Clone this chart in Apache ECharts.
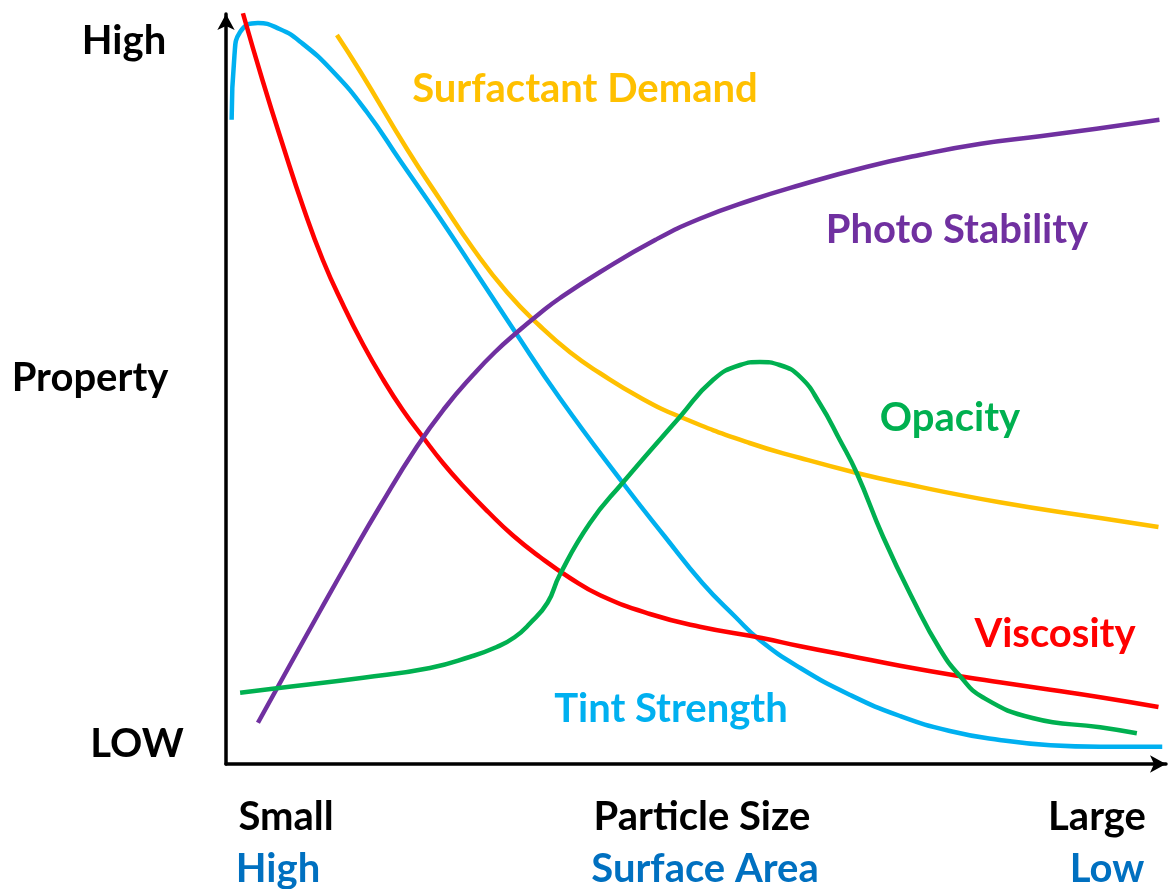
<!DOCTYPE html>
<html>
<head>
<meta charset="utf-8">
<script src="https://cdn.jsdelivr.net/npm/echarts@6/dist/echarts.min.js"></script>
<style>
html,body{margin:0;padding:0;background:#fff;}
#chart{width:1176px;height:889px;}
</style>
</head>
<body>
<div id="chart"></div>
<script>
// Particle size (0 = small, 100 = large) vs relative property level (0 = low, 100 = high)
const tintStrength = [[0.6,85.9],[0.9,94.5],[1.5,97.6],[3.4,98.8],[5.7,98.0],[7.9,96.3],[11.4,92.3],[15.0,86.9],[18.5,80.5],[22.8,72.7],[26.5,65.7],[30.5,58.1],[35.5,48.8],[42.2,37.5],[46.7,30.3],[50.7,24.1],[54.2,19.6],[56.8,16.5],[61.1,12.8],[66.4,9.2],[71.7,6.4],[77.0,4.4],[82.3,3.2],[87.7,2.5],[93.0,2.3],[99.6,2.3]];
const viscosity = [[1.8,100.1],[3.9,91.1],[6.1,82.3],[8.2,74.3],[10.3,67.2],[12.5,61.1],[14.6,55.9],[16.7,51.3],[18.8,47.2],[21.0,43.5],[23.1,40.1],[25.2,37.1],[27.9,33.6],[30.5,30.5],[33.4,27.6],[36.6,24.8],[39.8,22.5],[45.1,20.0],[50.4,18.3],[57.0,16.8],[61.1,15.7],[66.4,14.4],[71.7,13.1],[78.1,11.7],[82.3,10.9],[87.7,9.9],[93.0,8.9],[99.2,7.6]];
const surfactantDemand = [[11.8,97.2],[14.3,92.3],[19.3,81.9],[22.8,75.2],[26.3,68.7],[29.9,62.9],[33.4,58.4],[36.6,54.9],[39.8,52.1],[44.0,48.9],[48.3,46.3],[55.7,42.8],[61.1,40.8],[67.1,38.8],[71.7,37.5],[82.3,34.9],[93.0,32.8],[99.2,31.6]];
const photoStability = [[3.4,5.5],[6.8,13.2],[10.0,20.4],[13.2,27.5],[16.4,34.4],[20.3,42.3],[23.3,47.5],[26.3,51.9],[28.6,54.9],[31.0,57.6],[33.4,60.1],[35.5,62.1],[39.8,65.6],[45.7,69.9],[50.4,72.7],[55.9,75.2],[61.1,77.2],[68.1,79.6],[73.8,81.2],[80.3,82.7],[86.6,83.7],[92.6,84.7],[99.3,85.9]];
const opacity = [[1.5,9.5],[5.4,10.1],[14.6,11.5],[21.7,12.8],[26.0,14.3],[28.8,15.6],[30.7,16.9],[32.3,18.7],[34.2,21.5],[35.5,25.2],[38.7,32.1],[42.2,37.5],[48.3,46.3],[51.8,51.2],[54.7,53.2],[56.8,53.6],[58.9,53.2],[61.1,51.6],[63.2,48.0],[65.3,43.2],[67.1,38.8],[69.9,30.3],[73.1,21.9],[76.0,15.2],[78.1,11.7],[80.5,8.9],[85.9,6.1],[93.0,4.9],[96.9,4.1]];

const yTickLabels = ['High', 'Property', 'LOW'];
const xTickLabels = ['Small', 'Particle Size', 'Large'];
const xSubLabels = ['High', 'Surface Area', 'Low'];
const seriesNames = ['Tint Strength', 'Viscosity', 'Surfactant Demand', 'Photo Stability', 'Opacity'];

const FONT = 'Lato, "Open Sans", sans-serif';
const colors = {
  'Tint Strength': '#00B0F0',
  'Viscosity': '#FF0000',
  'Surfactant Demand': '#FFC000',
  'Photo Stability': '#7030A0',
  'Opacity': '#00B050'
};
const dataMap = {
  'Tint Strength': tintStrength,
  'Viscosity': viscosity,
  'Surfactant Demand': surfactantDemand,
  'Photo Stability': photoStability,
  'Opacity': opacity
};

function txt(text, x, y, color) {
  return {
    type: 'text', x: x, y: y,
    style: { text: text, fill: color, font: 'bold 40px ' + FONT, align: 'center', verticalAlign: 'middle' }
  };
}

const chart = echarts.init(document.getElementById('chart'));
chart.setOption({
  animation: false,
  backgroundColor: '#fff',
  grid: { left: 226, right: 10, top: 14, bottom: 125, containLabel: false },
  xAxis: {
    type: 'value', min: 0, max: 100,
    axisLine: { show: true, onZero: false, symbol: ['none', 'arrow'], symbolSize: [13, 16], lineStyle: { color: '#000', width: 3.5 } },
    axisTick: { show: false }, axisLabel: { show: false }, splitLine: { show: false }
  },
  yAxis: {
    type: 'value', min: 0, max: 100,
    axisLine: { show: true, onZero: false, symbol: ['none', 'arrow'], symbolSize: [13, 16], lineStyle: { color: '#000', width: 3.5 } },
    axisTick: { show: false }, axisLabel: { show: false }, splitLine: { show: false }
  },
  series: seriesNames.map(n => ({
    name: n, type: 'line', data: dataMap[n], smooth: 0.5, showSymbol: false, clip: false,
    lineStyle: { color: colors[n], width: 4.5, cap: 'butt' }
  })),
  graphic: [
    txt(yTickLabels[0], 124, 41, '#000'),
    txt(yTickLabels[1], 90, 378, '#000'),
    txt(yTickLabels[2], 137, 744, '#000'),
    txt(xTickLabels[0], 286, 817, '#000'),
    txt(xTickLabels[1], 702, 817, '#000'),
    txt(xTickLabels[2], 1097, 817, '#000'),
    txt(xSubLabels[0], 278, 869, '#0070C0'),
    txt(xSubLabels[1], 705, 869, '#0070C0'),
    txt(xSubLabels[2], 1107, 869, '#0070C0'),
    txt('Surfactant Demand', 585, 89, colors['Surfactant Demand']),
    txt('Photo Stability', 957, 230, colors['Photo Stability']),
    txt('Opacity', 950, 418, colors['Opacity']),
    txt('Viscosity', 1055, 634, colors['Viscosity']),
    txt('Tint Strength', 671, 709, colors['Tint Strength'])
  ]
});
</script>
</body>
</html>
